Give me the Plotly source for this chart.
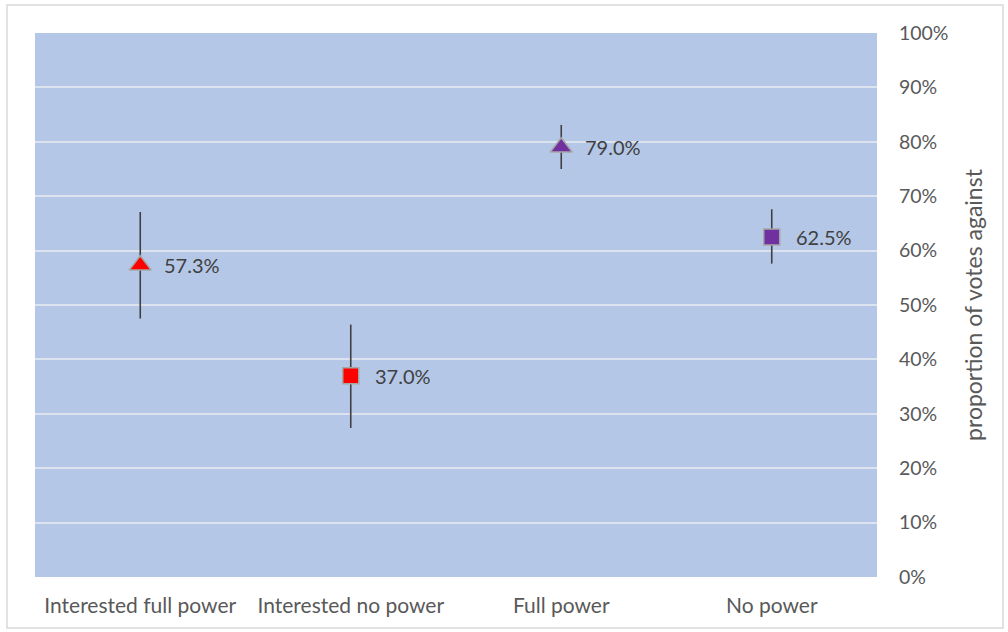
import plotly.graph_objects as go

categories = ["Interested full power", "Interested no power", "Full power", "No power"]
values = [0.573, 0.370, 0.790, 0.625]
err_plus = [0.098, 0.094, 0.041, 0.051]
err_minus = [0.098, 0.096, 0.040, 0.049]
labels = ["57.3%", "37.0%", "79.0%", "62.5%"]
symbols = ["triangle-up", "square", "triangle-up", "square"]
colors = ["#ff0000", "#ff0000", "#7030a0", "#7030a0"]
sizes = [19, 16, 19, 16]

W, H = 1008, 632
L, R, T, B = 35, 131, 33, 55
FONT = "Lato, 'Open Sans', sans-serif"

fig = go.Figure()
for i, c in enumerate(categories):
    fig.add_trace(go.Scatter(
        x=[c], y=[values[i]], mode="markers",
        marker=dict(symbol=symbols[i], color=colors[i], size=sizes[i],
                    line=dict(color="#a6a6a6", width=1.5)),
        error_y=dict(type="data", symmetric=False, array=[err_plus[i]],
                     arrayminus=[err_minus[i]], color="#404040",
                     thickness=1.6, width=0),
        showlegend=False, hoverinfo="skip",
    ))
    fig.add_annotation(x=c, y=values[i], text=labels[i], showarrow=False,
                       xanchor="left", xshift=22, yshift=0,
                       font=dict(family=FONT, size=20, color="#404040"))

pw = W - L - R
ph = H - T - B
fig.add_shape(type="rect", xref="paper", yref="paper",
              x0=(7 - L) / pw, x1=(1003 - L) / pw,
              y0=-(628 - T - ph) / ph, y1=1 + (T - 5) / ph,
              line=dict(color="#d9d9d9", width=1.5), layer="below")

fig.update_layout(
    width=W, height=H,
    margin=dict(l=L, r=R, t=T, b=B),
    paper_bgcolor="white",
    plot_bgcolor="#b4c7e7",
    font=dict(family=FONT, size=19, color="#595959"),
    xaxis=dict(type="category", categoryorder="array", categoryarray=categories,
               range=[-0.5, 3.5], showgrid=False, zeroline=False, showline=False,
               ticks="outside", ticklen=10, tickcolor="rgba(0,0,0,0)",
               tickfont=dict(family=FONT, size=21, color="#595959")),
    yaxis=dict(side="right", range=[0, 1.0], dtick=0.1, tickformat=".0%",
               showgrid=True, gridcolor="#dde3ee", gridwidth=1.5,
               zeroline=False, showline=False,
               ticks="outside", ticklen=17, tickcolor="rgba(0,0,0,0)",
               tickfont=dict(family=FONT, size=19.5, color="#595959"),
               title=dict(text="proportion of votes against", standoff=18,
                          font=dict(family=FONT, size=23, color="#595959"))),
)

fig.write_html("out.html", config={"displayModeBar": False},
               post_script="document.body.style.margin='0';document.body.style.overflow='hidden';")
